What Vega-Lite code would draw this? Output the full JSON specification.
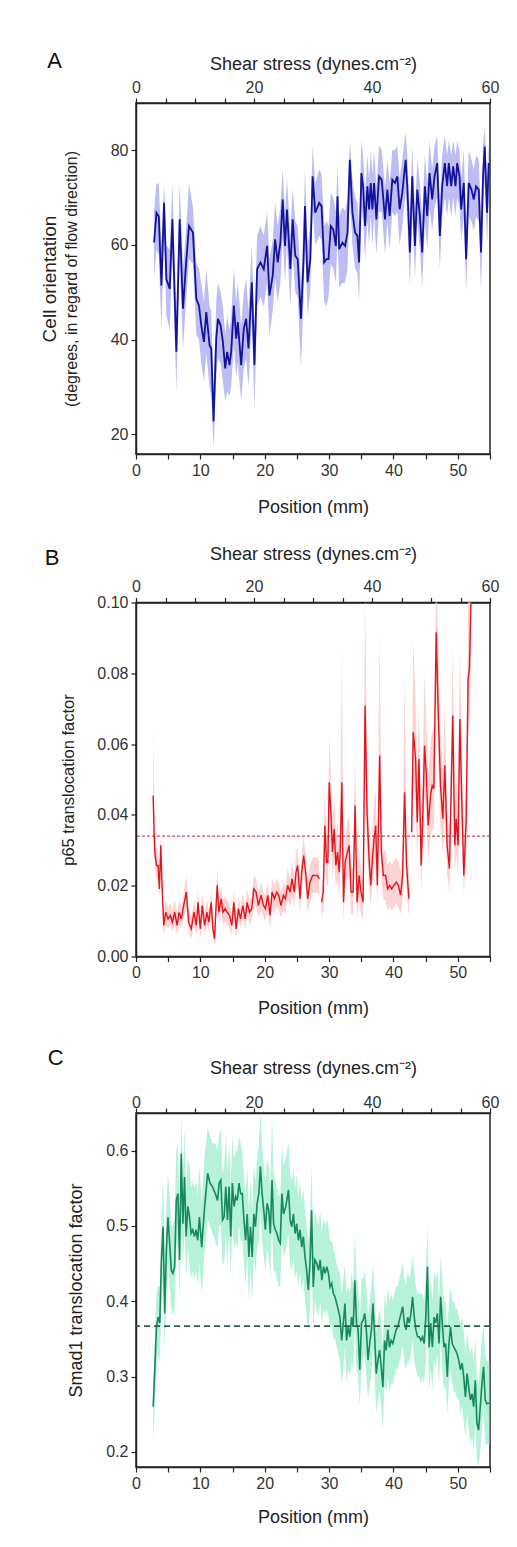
{
  "$schema": "https://vega.github.io/schema/vega-lite/v6.json",
  "background": "white",
  "padding": {"left": 39, "top": 49, "right": 5, "bottom": 5},
  "spacing": 27.5,
  "config": {
    "font": "Liberation Sans",
    "view": {"stroke": "#222", "strokeWidth": 1.5},
    "axis": {"grid": false, "domainColor": "#222", "domainWidth": 1.5, "tickColor": "#222", "tickWidth": 1.2, "tickSize": 5, "labelFont": "Liberation Sans", "labelFontSize": 16, "labelColor": "#333", "titleFont": "Liberation Sans", "titleFontSize": 18, "titleFontWeight": "normal", "titleColor": "#222", "labelPadding": 3, "labelFlush": false, "labelOverlap": false},
    "title": {"font": "Liberation Sans", "fontSize": 22, "fontWeight": "normal", "color": "#111", "anchor": "start", "frame": "bounds", "offset": 0}
  },
  "datasets": {
    "A": [
      {"x":2.81,"y":60.5,"lo":53,"hi":67},{"x":3.18,"y":66.8,"lo":59,"hi":73},{"x":3.54,"y":66.0,"lo":58,"hi":73},{"x":3.95,"y":51.4,"lo":42,"hi":60},{"x":4.36,"y":68.9,"lo":62,"hi":73},{"x":4.72,"y":52.8,"lo":45,"hi":60},{"x":5.24,"y":50.7,"lo":42,"hi":59},{"x":5.65,"y":65.4,"lo":58,"hi":73},{"x":6.27,"y":37.4,"lo":29,"hi":46},{"x":6.79,"y":65.4,"lo":57,"hi":73},{"x":7.30,"y":46.5,"lo":38,"hi":55},{"x":7.72,"y":54.9,"lo":47,"hi":62},{"x":8.23,"y":64.0,"lo":57,"hi":73},{"x":8.85,"y":62.6,"lo":56,"hi":68},{"x":9.37,"y":48.6,"lo":41,"hi":56},{"x":9.78,"y":47.2,"lo":40,"hi":55},{"x":10.14,"y":43.0,"lo":35,"hi":52},{"x":10.56,"y":39.5,"lo":31,"hi":48},{"x":10.92,"y":45.8,"lo":37,"hi":55},{"x":11.43,"y":38.8,"lo":30,"hi":47},{"x":11.69,"y":38.1,"lo":28,"hi":46},{"x":12.05,"y":22.7,"lo":17,"hi":30},{"x":12.47,"y":40.2,"lo":32,"hi":48},{"x":12.73,"y":44.4,"lo":36,"hi":52},{"x":13.14,"y":43.0,"lo":35,"hi":50},{"x":13.50,"y":39.5,"lo":31,"hi":47},{"x":13.86,"y":33.9,"lo":27,"hi":41},{"x":14.17,"y":37.4,"lo":29,"hi":45},{"x":14.53,"y":34.6,"lo":28,"hi":42},{"x":14.79,"y":37.4,"lo":30,"hi":45},{"x":15.20,"y":47.2,"lo":39,"hi":55},{"x":15.57,"y":40.2,"lo":32,"hi":48},{"x":15.82,"y":43.7,"lo":35,"hi":52},{"x":16.34,"y":34.6,"lo":27,"hi":43},{"x":16.75,"y":42.3,"lo":34,"hi":50},{"x":17.11,"y":44.4,"lo":36,"hi":53},{"x":17.48,"y":38.1,"lo":30,"hi":46},{"x":17.99,"y":52.1,"lo":44,"hi":60},{"x":18.40,"y":34.6,"lo":25,"hi":43},{"x":18.82,"y":54.9,"lo":47,"hi":62},{"x":19.33,"y":56.3,"lo":49,"hi":64},{"x":19.85,"y":54.9,"lo":47,"hi":62},{"x":20.37,"y":59.8,"lo":52,"hi":67},{"x":20.73,"y":49.3,"lo":41,"hi":57},{"x":21.24,"y":53.5,"lo":46,"hi":61},{"x":21.61,"y":61.2,"lo":53,"hi":69},{"x":22.02,"y":56.3,"lo":48,"hi":64},{"x":22.43,"y":60.5,"lo":52,"hi":68},{"x":22.79,"y":69.6,"lo":62,"hi":76},{"x":23.15,"y":59.8,"lo":52,"hi":67},{"x":23.46,"y":67.5,"lo":60,"hi":74},{"x":23.98,"y":54.9,"lo":47,"hi":62},{"x":24.34,"y":65.4,"lo":58,"hi":72},{"x":24.75,"y":57.7,"lo":50,"hi":65},{"x":25.12,"y":57.0,"lo":49,"hi":64},{"x":25.63,"y":44.4,"lo":34,"hi":52},{"x":26.04,"y":57.0,"lo":49,"hi":64},{"x":26.25,"y":68.2,"lo":61,"hi":76},{"x":26.66,"y":52.1,"lo":45,"hi":60},{"x":27.08,"y":57.0,"lo":50,"hi":64},{"x":27.44,"y":74.5,"lo":68,"hi":81},{"x":27.85,"y":66.8,"lo":60,"hi":73},{"x":28.47,"y":68.9,"lo":62,"hi":76},{"x":28.83,"y":68.2,"lo":61,"hi":75},{"x":29.24,"y":56.3,"lo":48,"hi":64},{"x":29.60,"y":57.0,"lo":47,"hi":65},{"x":29.91,"y":57.0,"lo":49,"hi":64},{"x":30.27,"y":64.0,"lo":56,"hi":71},{"x":30.64,"y":63.3,"lo":55,"hi":70},{"x":31.05,"y":59.8,"lo":52,"hi":67},{"x":31.31,"y":70.3,"lo":62,"hi":77},{"x":31.56,"y":59.1,"lo":51,"hi":66},{"x":32.08,"y":60.5,"lo":52,"hi":68},{"x":32.49,"y":59.8,"lo":52,"hi":67},{"x":32.86,"y":62.6,"lo":55,"hi":70},{"x":33.22,"y":78.0,"lo":70,"hi":82},{"x":33.63,"y":66.8,"lo":60,"hi":74},{"x":34.04,"y":62.6,"lo":55,"hi":70},{"x":34.40,"y":61.9,"lo":54,"hi":69},{"x":34.66,"y":56.3,"lo":48,"hi":64},{"x":35.02,"y":75.2,"lo":68,"hi":82},{"x":35.28,"y":72.4,"lo":65,"hi":79},{"x":35.59,"y":64.0,"lo":57,"hi":71},{"x":35.95,"y":72.4,"lo":65,"hi":79},{"x":36.21,"y":67.5,"lo":60,"hi":74},{"x":36.47,"y":73.1,"lo":66,"hi":80},{"x":36.73,"y":67.5,"lo":60,"hi":75},{"x":36.99,"y":73.1,"lo":66,"hi":80},{"x":37.35,"y":65.4,"lo":58,"hi":72},{"x":37.76,"y":74.5,"lo":67,"hi":81},{"x":38.17,"y":73.8,"lo":67,"hi":80},{"x":38.69,"y":65.4,"lo":58,"hi":72},{"x":39.05,"y":71.7,"lo":65,"hi":78},{"x":39.41,"y":66.1,"lo":59,"hi":73},{"x":39.82,"y":73.8,"lo":67,"hi":80},{"x":40.24,"y":73.1,"lo":66,"hi":80},{"x":40.60,"y":74.5,"lo":67,"hi":81},{"x":40.96,"y":67.5,"lo":60,"hi":74},{"x":41.37,"y":71.0,"lo":64,"hi":78},{"x":41.89,"y":78.0,"lo":71,"hi":84},{"x":42.15,"y":72.4,"lo":65,"hi":79},{"x":42.56,"y":58.4,"lo":51,"hi":66},{"x":42.92,"y":74.5,"lo":67,"hi":81},{"x":43.34,"y":59.8,"lo":53,"hi":67},{"x":43.70,"y":71.7,"lo":65,"hi":78},{"x":44.11,"y":66.1,"lo":59,"hi":73},{"x":44.47,"y":58.4,"lo":51,"hi":66},{"x":44.88,"y":72.4,"lo":65,"hi":79},{"x":45.25,"y":66.1,"lo":59,"hi":73},{"x":45.61,"y":75.2,"lo":68,"hi":82},{"x":46.02,"y":69.6,"lo":63,"hi":76},{"x":46.38,"y":74.5,"lo":68,"hi":81},{"x":46.80,"y":77.3,"lo":70,"hi":83},{"x":47.21,"y":61.9,"lo":55,"hi":69},{"x":47.57,"y":72.4,"lo":66,"hi":79},{"x":47.98,"y":77.3,"lo":70,"hi":83},{"x":48.34,"y":72.4,"lo":66,"hi":79},{"x":48.60,"y":77.3,"lo":70,"hi":82},{"x":48.97,"y":72.4,"lo":66,"hi":79},{"x":49.28,"y":76.6,"lo":70,"hi":82},{"x":49.64,"y":72.4,"lo":66,"hi":79},{"x":49.90,"y":77.3,"lo":70,"hi":82},{"x":50.26,"y":74.5,"lo":68,"hi":80},{"x":50.52,"y":67.5,"lo":61,"hi":74},{"x":50.93,"y":73.1,"lo":66,"hi":80},{"x":51.29,"y":57.0,"lo":50,"hi":64},{"x":51.70,"y":73.1,"lo":66,"hi":80},{"x":52.12,"y":71.7,"lo":65,"hi":78},{"x":52.48,"y":69.6,"lo":63,"hi":76},{"x":52.84,"y":72.4,"lo":66,"hi":79},{"x":53.25,"y":71.7,"lo":65,"hi":78},{"x":53.61,"y":58.4,"lo":50,"hi":66},{"x":53.92,"y":74.5,"lo":68,"hi":81},{"x":54.18,"y":80.8,"lo":74,"hi":85},{"x":54.54,"y":66.8,"lo":60,"hi":74},{"x":54.80,"y":77.3,"lo":70,"hi":82}
    ],
    "B": [
      {"s":1,"x":2.66,"y":0.0455,"lo":0.040,"hi":0.065},{"s":1,"x":2.81,"y":0.0351,"lo":0.030,"hi":0.050},{"s":1,"x":2.92,"y":0.0295,"lo":0.025,"hi":0.036},{"s":1,"x":3.18,"y":0.0257,"lo":0.022,"hi":0.030},{"s":1,"x":3.43,"y":0.0257,"lo":0.022,"hi":0.030},{"s":1,"x":3.64,"y":0.0191,"lo":0.016,"hi":0.023},{"s":1,"x":3.85,"y":0.0314,"lo":0.027,"hi":0.036},{"s":1,"x":4.05,"y":0.0201,"lo":0.016,"hi":0.024},{"s":1,"x":4.31,"y":0.0088,"lo":0.006,"hi":0.012},{"s":1,"x":4.62,"y":0.0125,"lo":0.009,"hi":0.016},{"s":1,"x":4.98,"y":0.0106,"lo":0.008,"hi":0.014},{"s":1,"x":5.34,"y":0.0116,"lo":0.009,"hi":0.015},{"s":1,"x":5.65,"y":0.0097,"lo":0.007,"hi":0.013},{"s":1,"x":6.01,"y":0.0125,"lo":0.009,"hi":0.016},{"s":1,"x":6.38,"y":0.0088,"lo":0.006,"hi":0.012},{"s":1,"x":6.69,"y":0.0125,"lo":0.009,"hi":0.016},{"s":1,"x":7.05,"y":0.0106,"lo":0.008,"hi":0.014},{"s":1,"x":7.41,"y":0.0144,"lo":0.011,"hi":0.018},{"s":1,"x":7.82,"y":0.0182,"lo":0.014,"hi":0.023},{"s":1,"x":8.18,"y":0.0097,"lo":0.007,"hi":0.013},{"s":1,"x":8.59,"y":0.0078,"lo":0.005,"hi":0.011},{"s":1,"x":9.00,"y":0.0125,"lo":0.009,"hi":0.016},{"s":1,"x":9.37,"y":0.0088,"lo":0.006,"hi":0.012},{"s":1,"x":9.63,"y":0.0153,"lo":0.012,"hi":0.019},{"s":1,"x":9.99,"y":0.0078,"lo":0.005,"hi":0.011},{"s":1,"x":10.30,"y":0.0144,"lo":0.011,"hi":0.018},{"s":1,"x":10.66,"y":0.0088,"lo":0.006,"hi":0.012},{"s":1,"x":11.02,"y":0.0125,"lo":0.009,"hi":0.016},{"s":1,"x":11.33,"y":0.0097,"lo":0.007,"hi":0.013},{"s":1,"x":11.69,"y":0.0153,"lo":0.012,"hi":0.019},{"s":1,"x":11.95,"y":0.0078,"lo":0.005,"hi":0.011},{"s":1,"x":12.21,"y":0.0050,"lo":0.003,"hi":0.008},{"s":1,"x":12.47,"y":0.0153,"lo":0.012,"hi":0.019},{"s":1,"x":12.62,"y":0.0201,"lo":0.016,"hi":0.025},{"s":1,"x":12.88,"y":0.0125,"lo":0.009,"hi":0.016},{"s":1,"x":13.24,"y":0.0163,"lo":0.013,"hi":0.020},{"s":1,"x":13.50,"y":0.0125,"lo":0.009,"hi":0.016},{"s":1,"x":13.86,"y":0.0135,"lo":0.010,"hi":0.017},{"s":1,"x":14.17,"y":0.0125,"lo":0.009,"hi":0.016},{"s":1,"x":14.53,"y":0.0116,"lo":0.008,"hi":0.015},{"s":1,"x":14.89,"y":0.0088,"lo":0.006,"hi":0.012},{"s":1,"x":15.20,"y":0.0153,"lo":0.012,"hi":0.019},{"s":1,"x":15.56,"y":0.0078,"lo":0.005,"hi":0.011},{"s":1,"x":15.92,"y":0.0135,"lo":0.010,"hi":0.017},{"s":1,"x":16.23,"y":0.0106,"lo":0.008,"hi":0.014},{"s":1,"x":16.60,"y":0.0144,"lo":0.011,"hi":0.018},{"s":1,"x":16.96,"y":0.0106,"lo":0.008,"hi":0.014},{"s":1,"x":17.27,"y":0.0153,"lo":0.012,"hi":0.019},{"s":1,"x":17.63,"y":0.0125,"lo":0.009,"hi":0.016},{"s":1,"x":17.99,"y":0.0135,"lo":0.010,"hi":0.017},{"s":1,"x":18.30,"y":0.0191,"lo":0.015,"hi":0.023},{"s":1,"x":18.66,"y":0.0182,"lo":0.014,"hi":0.022},{"s":1,"x":19.02,"y":0.0144,"lo":0.011,"hi":0.018},{"s":1,"x":19.44,"y":0.0173,"lo":0.013,"hi":0.021},{"s":1,"x":19.80,"y":0.0144,"lo":0.011,"hi":0.018},{"s":1,"x":20.11,"y":0.0135,"lo":0.010,"hi":0.017},{"s":1,"x":20.47,"y":0.0173,"lo":0.013,"hi":0.021},{"s":1,"x":20.83,"y":0.0116,"lo":0.008,"hi":0.015},{"s":1,"x":21.14,"y":0.0182,"lo":0.014,"hi":0.022},{"s":1,"x":21.50,"y":0.0163,"lo":0.012,"hi":0.020},{"s":1,"x":21.86,"y":0.0182,"lo":0.014,"hi":0.022},{"s":1,"x":22.17,"y":0.0173,"lo":0.013,"hi":0.021},{"s":1,"x":22.53,"y":0.0144,"lo":0.011,"hi":0.018},{"s":1,"x":22.90,"y":0.0173,"lo":0.013,"hi":0.021},{"s":1,"x":23.21,"y":0.0163,"lo":0.012,"hi":0.020},{"s":1,"x":23.57,"y":0.0201,"lo":0.016,"hi":0.025},{"s":1,"x":23.93,"y":0.0182,"lo":0.014,"hi":0.022},{"s":1,"x":24.24,"y":0.0219,"lo":0.017,"hi":0.027},{"s":1,"x":24.60,"y":0.0182,"lo":0.014,"hi":0.022},{"s":1,"x":24.86,"y":0.0238,"lo":0.019,"hi":0.029},{"s":1,"x":25.12,"y":0.0257,"lo":0.020,"hi":0.031},{"s":1,"x":25.48,"y":0.0163,"lo":0.012,"hi":0.020},{"s":1,"x":25.74,"y":0.0238,"lo":0.019,"hi":0.029},{"s":1,"x":26.05,"y":0.0285,"lo":0.023,"hi":0.034},{"s":1,"x":26.41,"y":0.0229,"lo":0.018,"hi":0.028},{"s":1,"x":26.67,"y":0.0163,"lo":0.012,"hi":0.021},{"s":1,"x":27.03,"y":0.0210,"lo":0.016,"hi":0.026},{"s":1,"x":27.44,"y":0.0229,"lo":0.018,"hi":0.028},{"s":1,"x":27.85,"y":0.0229,"lo":0.018,"hi":0.028},{"s":1,"x":28.20,"y":0.0229,"lo":0.018,"hi":0.028},{"s":1,"x":28.47,"y":0.0219,"lo":0.017,"hi":0.027},
      {"s":2,"x":28.83,"y":0.0153,"lo":0.011,"hi":0.020},{"s":2,"x":29.09,"y":0.0182,"lo":0.013,"hi":0.024},{"s":2,"x":29.35,"y":0.0370,"lo":0.028,"hi":0.048},{"s":2,"x":29.60,"y":0.0266,"lo":0.020,"hi":0.034},{"s":2,"x":29.81,"y":0.0266,"lo":0.020,"hi":0.034},{"s":2,"x":30.02,"y":0.0492,"lo":0.038,"hi":0.062},{"s":2,"x":30.27,"y":0.0408,"lo":0.031,"hi":0.052},{"s":2,"x":30.53,"y":0.0295,"lo":0.022,"hi":0.038},{"s":2,"x":30.79,"y":0.0361,"lo":0.027,"hi":0.046},{"s":2,"x":31.05,"y":0.0257,"lo":0.019,"hi":0.033},{"s":2,"x":31.31,"y":0.0295,"lo":0.022,"hi":0.038},{"s":2,"x":31.56,"y":0.0238,"lo":0.017,"hi":0.031},{"s":2,"x":31.72,"y":0.0295,"lo":0.022,"hi":0.038},{"s":2,"x":31.98,"y":0.0492,"lo":0.037,"hi":0.088},{"s":2,"x":32.24,"y":0.0153,"lo":0.010,"hi":0.021},{"s":2,"x":32.49,"y":0.0266,"lo":0.019,"hi":0.034},{"s":2,"x":32.85,"y":0.0295,"lo":0.022,"hi":0.038},{"s":2,"x":33.11,"y":0.0314,"lo":0.023,"hi":0.040},{"s":2,"x":33.42,"y":0.0182,"lo":0.012,"hi":0.025},{"s":2,"x":33.73,"y":0.0182,"lo":0.012,"hi":0.025},{"s":2,"x":34.04,"y":0.0427,"lo":0.032,"hi":0.058},{"s":2,"x":34.35,"y":0.0153,"lo":0.010,"hi":0.021},{"s":2,"x":34.66,"y":0.0229,"lo":0.016,"hi":0.030},{"s":2,"x":34.97,"y":0.0182,"lo":0.012,"hi":0.025},{"s":2,"x":35.28,"y":0.0153,"lo":0.010,"hi":0.021},{"s":2,"x":35.59,"y":0.0709,"lo":0.055,"hi":0.105},{"s":2,"x":35.90,"y":0.0408,"lo":0.030,"hi":0.052},{"s":2,"x":36.21,"y":0.0276,"lo":0.020,"hi":0.036},{"s":2,"x":36.47,"y":0.0201,"lo":0.014,"hi":0.027},{"s":2,"x":36.73,"y":0.0276,"lo":0.020,"hi":0.036},{"s":2,"x":36.99,"y":0.0332,"lo":0.025,"hi":0.043},{"s":2,"x":37.24,"y":0.0370,"lo":0.028,"hi":0.047},{"s":2,"x":37.50,"y":0.0201,"lo":0.014,"hi":0.027},{"s":2,"x":37.86,"y":0.0568,"lo":0.044,"hi":0.092},{"s":2,"x":38.12,"y":0.0295,"lo":0.022,"hi":0.038},{"s":2,"x":38.43,"y":0.0229,"lo":0.016,"hi":0.030},{"s":2,"x":38.79,"y":0.0229,"lo":0.016,"hi":0.030},{"s":2,"x":39.10,"y":0.0191,"lo":0.013,"hi":0.026},{"s":2,"x":39.41,"y":0.0201,"lo":0.014,"hi":0.027},{"s":2,"x":39.72,"y":0.0191,"lo":0.013,"hi":0.026},{"s":2,"x":40.08,"y":0.0201,"lo":0.014,"hi":0.027},{"s":2,"x":40.44,"y":0.0210,"lo":0.015,"hi":0.028},{"s":2,"x":40.75,"y":0.0201,"lo":0.014,"hi":0.027},{"s":2,"x":41.11,"y":0.0173,"lo":0.012,"hi":0.024},{"s":2,"x":41.42,"y":0.0229,"lo":0.016,"hi":0.030},{"s":2,"x":41.73,"y":0.0464,"lo":0.035,"hi":0.080},{"s":2,"x":42.04,"y":0.0257,"lo":0.018,"hi":0.034},{"s":2,"x":42.40,"y":0.0163,"lo":0.011,"hi":0.023},
      {"s":3,"x":42.82,"y":0.0351,"lo":0.026,"hi":0.046},{"s":3,"x":43.08,"y":0.0634,"lo":0.050,"hi":0.090},{"s":3,"x":43.44,"y":0.0558,"lo":0.043,"hi":0.072},{"s":3,"x":43.70,"y":0.0379,"lo":0.028,"hi":0.050},{"s":3,"x":43.96,"y":0.0558,"lo":0.043,"hi":0.072},{"s":3,"x":44.31,"y":0.0257,"lo":0.018,"hi":0.035},{"s":3,"x":44.57,"y":0.0408,"lo":0.030,"hi":0.054},{"s":3,"x":44.83,"y":0.0596,"lo":0.046,"hi":0.080},{"s":3,"x":45.09,"y":0.0521,"lo":0.040,"hi":0.068},{"s":3,"x":45.40,"y":0.0370,"lo":0.027,"hi":0.050},{"s":3,"x":45.76,"y":0.0455,"lo":0.034,"hi":0.060},{"s":3,"x":46.02,"y":0.0483,"lo":0.036,"hi":0.064},{"s":3,"x":46.28,"y":0.0474,"lo":0.036,"hi":0.063},{"s":3,"x":46.64,"y":0.0916,"lo":0.075,"hi":0.110},{"s":3,"x":46.95,"y":0.0700,"lo":0.055,"hi":0.090},{"s":3,"x":47.31,"y":0.0483,"lo":0.036,"hi":0.064},{"s":3,"x":47.67,"y":0.0389,"lo":0.029,"hi":0.052},{"s":3,"x":47.98,"y":0.0540,"lo":0.041,"hi":0.072},{"s":3,"x":48.34,"y":0.0314,"lo":0.023,"hi":0.042},{"s":3,"x":48.70,"y":0.0248,"lo":0.018,"hi":0.034},{"s":3,"x":48.96,"y":0.0464,"lo":0.035,"hi":0.062},{"s":3,"x":49.22,"y":0.0681,"lo":0.053,"hi":0.088},{"s":3,"x":49.53,"y":0.0314,"lo":0.023,"hi":0.042},{"s":3,"x":49.74,"y":0.0389,"lo":0.029,"hi":0.052},{"s":3,"x":50.05,"y":0.0314,"lo":0.023,"hi":0.042},{"s":3,"x":50.31,"y":0.0671,"lo":0.052,"hi":0.088},{"s":3,"x":50.56,"y":0.0483,"lo":0.036,"hi":0.064},{"s":3,"x":50.93,"y":0.0229,"lo":0.017,"hi":0.031},{"s":3,"x":51.29,"y":0.0379,"lo":0.028,"hi":0.050},{"s":3,"x":51.60,"y":0.0784,"lo":0.062,"hi":0.100},{"s":3,"x":51.80,"y":0.0813,"lo":0.065,"hi":0.105},{"s":3,"x":52.06,"y":0.1010,"lo":0.085,"hi":0.120}
    ],
    "C": [
      {"x":2.67,"y":0.260,"lo":0.215,"hi":0.300},{"x":2.92,"y":0.309,"lo":0.26,"hi":0.35},{"x":3.18,"y":0.366,"lo":0.31,"hi":0.41},{"x":3.44,"y":0.379,"lo":0.33,"hi":0.42},{"x":3.69,"y":0.371,"lo":0.32,"hi":0.42},{"x":3.95,"y":0.455,"lo":0.39,"hi":0.52},{"x":4.21,"y":0.499,"lo":0.43,"hi":0.56},{"x":4.46,"y":0.384,"lo":0.33,"hi":0.44},{"x":4.72,"y":0.468,"lo":0.41,"hi":0.53},{"x":4.97,"y":0.512,"lo":0.45,"hi":0.57},{"x":5.23,"y":0.477,"lo":0.42,"hi":0.54},{"x":5.49,"y":0.441,"lo":0.39,"hi":0.50},{"x":5.74,"y":0.437,"lo":0.38,"hi":0.50},{"x":6.00,"y":0.446,"lo":0.39,"hi":0.51},{"x":6.26,"y":0.534,"lo":0.47,"hi":0.60},{"x":6.51,"y":0.543,"lo":0.48,"hi":0.61},{"x":6.77,"y":0.455,"lo":0.40,"hi":0.52},{"x":7.03,"y":0.596,"lo":0.53,"hi":0.65},{"x":7.28,"y":0.503,"lo":0.44,"hi":0.57},{"x":7.54,"y":0.565,"lo":0.50,"hi":0.63},{"x":7.79,"y":0.486,"lo":0.43,"hi":0.55},{"x":8.05,"y":0.526,"lo":0.47,"hi":0.59},{"x":8.31,"y":0.512,"lo":0.45,"hi":0.58},{"x":8.56,"y":0.490,"lo":0.43,"hi":0.55},{"x":8.82,"y":0.495,"lo":0.44,"hi":0.56},{"x":9.08,"y":0.486,"lo":0.43,"hi":0.55},{"x":9.33,"y":0.495,"lo":0.44,"hi":0.56},{"x":9.59,"y":0.481,"lo":0.42,"hi":0.54},{"x":9.85,"y":0.512,"lo":0.45,"hi":0.58},{"x":10.21,"y":0.472,"lo":0.41,"hi":0.53},{"x":10.62,"y":0.521,"lo":0.46,"hi":0.59},{"x":11.13,"y":0.570,"lo":0.51,"hi":0.63},{"x":11.49,"y":0.557,"lo":0.50,"hi":0.62},{"x":11.90,"y":0.552,"lo":0.49,"hi":0.61},{"x":12.31,"y":0.543,"lo":0.48,"hi":0.61},{"x":12.67,"y":0.534,"lo":0.47,"hi":0.60},{"x":12.92,"y":0.557,"lo":0.50,"hi":0.62},{"x":13.18,"y":0.561,"lo":0.50,"hi":0.63},{"x":13.44,"y":0.508,"lo":0.45,"hi":0.57},{"x":13.69,"y":0.512,"lo":0.45,"hi":0.58},{"x":13.95,"y":0.552,"lo":0.49,"hi":0.62},{"x":14.21,"y":0.508,"lo":0.45,"hi":0.57},{"x":14.46,"y":0.552,"lo":0.49,"hi":0.61},{"x":14.72,"y":0.486,"lo":0.43,"hi":0.55},{"x":14.97,"y":0.557,"lo":0.50,"hi":0.62},{"x":15.23,"y":0.526,"lo":0.47,"hi":0.59},{"x":15.49,"y":0.539,"lo":0.48,"hi":0.60},{"x":15.74,"y":0.534,"lo":0.47,"hi":0.60},{"x":16.00,"y":0.557,"lo":0.50,"hi":0.62},{"x":16.26,"y":0.543,"lo":0.48,"hi":0.61},{"x":16.51,"y":0.543,"lo":0.48,"hi":0.60},{"x":16.77,"y":0.508,"lo":0.45,"hi":0.57},{"x":17.03,"y":0.481,"lo":0.42,"hi":0.54},{"x":17.28,"y":0.516,"lo":0.46,"hi":0.58},{"x":17.54,"y":0.459,"lo":0.40,"hi":0.52},{"x":17.79,"y":0.499,"lo":0.44,"hi":0.56},{"x":18.05,"y":0.459,"lo":0.40,"hi":0.52},{"x":18.31,"y":0.516,"lo":0.46,"hi":0.58},{"x":18.56,"y":0.499,"lo":0.44,"hi":0.56},{"x":18.82,"y":0.530,"lo":0.47,"hi":0.59},{"x":19.08,"y":0.543,"lo":0.48,"hi":0.61},{"x":19.33,"y":0.579,"lo":0.52,"hi":0.65},{"x":19.59,"y":0.543,"lo":0.48,"hi":0.61},{"x":19.85,"y":0.521,"lo":0.46,"hi":0.58},{"x":20.10,"y":0.495,"lo":0.44,"hi":0.56},{"x":20.36,"y":0.530,"lo":0.47,"hi":0.59},{"x":20.62,"y":0.521,"lo":0.46,"hi":0.58},{"x":20.87,"y":0.490,"lo":0.43,"hi":0.55},{"x":21.13,"y":0.561,"lo":0.50,"hi":0.65},{"x":21.38,"y":0.503,"lo":0.44,"hi":0.57},{"x":21.64,"y":0.495,"lo":0.44,"hi":0.56},{"x":21.90,"y":0.490,"lo":0.43,"hi":0.55},{"x":22.15,"y":0.481,"lo":0.42,"hi":0.54},{"x":22.41,"y":0.477,"lo":0.42,"hi":0.54},{"x":22.67,"y":0.543,"lo":0.48,"hi":0.61},{"x":22.92,"y":0.516,"lo":0.46,"hi":0.58},{"x":23.28,"y":0.526,"lo":0.47,"hi":0.59},{"x":23.69,"y":0.548,"lo":0.49,"hi":0.61},{"x":23.95,"y":0.508,"lo":0.45,"hi":0.57},{"x":24.21,"y":0.499,"lo":0.44,"hi":0.56},{"x":24.46,"y":0.516,"lo":0.46,"hi":0.58},{"x":24.72,"y":0.490,"lo":0.43,"hi":0.55},{"x":24.97,"y":0.503,"lo":0.44,"hi":0.57},{"x":25.23,"y":0.481,"lo":0.42,"hi":0.54},{"x":25.49,"y":0.495,"lo":0.44,"hi":0.56},{"x":25.74,"y":0.472,"lo":0.41,"hi":0.53},{"x":26.00,"y":0.486,"lo":0.43,"hi":0.55},{"x":26.26,"y":0.459,"lo":0.40,"hi":0.52},{"x":26.51,"y":0.441,"lo":0.38,"hi":0.50},{"x":26.77,"y":0.415,"lo":0.36,"hi":0.48},{"x":27.03,"y":0.450,"lo":0.39,"hi":0.51},{"x":27.28,"y":0.521,"lo":0.46,"hi":0.58},{"x":27.54,"y":0.419,"lo":0.36,"hi":0.48},{"x":27.79,"y":0.455,"lo":0.40,"hi":0.52},{"x":28.10,"y":0.450,"lo":0.39,"hi":0.51},{"x":28.36,"y":0.441,"lo":0.38,"hi":0.50},{"x":28.62,"y":0.455,"lo":0.40,"hi":0.52},{"x":28.87,"y":0.428,"lo":0.37,"hi":0.49},{"x":29.13,"y":0.446,"lo":0.39,"hi":0.51},{"x":29.38,"y":0.437,"lo":0.38,"hi":0.50},{"x":29.64,"y":0.446,"lo":0.39,"hi":0.51},{"x":29.90,"y":0.437,"lo":0.38,"hi":0.50},{"x":30.15,"y":0.419,"lo":0.36,"hi":0.48},{"x":30.41,"y":0.424,"lo":0.37,"hi":0.48},{"x":30.67,"y":0.410,"lo":0.35,"hi":0.47},{"x":30.92,"y":0.406,"lo":0.35,"hi":0.46},{"x":31.18,"y":0.397,"lo":0.34,"hi":0.45},{"x":31.44,"y":0.388,"lo":0.33,"hi":0.44},{"x":31.69,"y":0.379,"lo":0.32,"hi":0.44},{"x":31.95,"y":0.348,"lo":0.29,"hi":0.41},{"x":32.21,"y":0.371,"lo":0.31,"hi":0.43},{"x":32.46,"y":0.397,"lo":0.34,"hi":0.45},{"x":32.72,"y":0.348,"lo":0.29,"hi":0.41},{"x":32.97,"y":0.366,"lo":0.31,"hi":0.42},{"x":33.23,"y":0.353,"lo":0.30,"hi":0.41},{"x":33.49,"y":0.379,"lo":0.32,"hi":0.44},{"x":33.74,"y":0.366,"lo":0.31,"hi":0.42},{"x":34.00,"y":0.428,"lo":0.37,"hi":0.49},{"x":34.26,"y":0.371,"lo":0.31,"hi":0.43},{"x":34.51,"y":0.362,"lo":0.30,"hi":0.42},{"x":34.77,"y":0.309,"lo":0.26,"hi":0.37},{"x":35.03,"y":0.371,"lo":0.31,"hi":0.43},{"x":35.28,"y":0.375,"lo":0.32,"hi":0.43},{"x":35.54,"y":0.384,"lo":0.33,"hi":0.44},{"x":35.79,"y":0.362,"lo":0.30,"hi":0.42},{"x":36.05,"y":0.322,"lo":0.27,"hi":0.38},{"x":36.31,"y":0.344,"lo":0.29,"hi":0.40},{"x":36.56,"y":0.362,"lo":0.30,"hi":0.42},{"x":36.82,"y":0.397,"lo":0.34,"hi":0.45},{"x":37.08,"y":0.353,"lo":0.30,"hi":0.41},{"x":37.33,"y":0.304,"lo":0.25,"hi":0.36},{"x":37.59,"y":0.322,"lo":0.27,"hi":0.38},{"x":37.85,"y":0.335,"lo":0.28,"hi":0.39},{"x":38.10,"y":0.313,"lo":0.26,"hi":0.37},{"x":38.36,"y":0.286,"lo":0.23,"hi":0.34},{"x":38.62,"y":0.348,"lo":0.29,"hi":0.41},{"x":38.87,"y":0.335,"lo":0.28,"hi":0.39},{"x":39.13,"y":0.362,"lo":0.30,"hi":0.42},{"x":39.38,"y":0.339,"lo":0.28,"hi":0.40},{"x":39.64,"y":0.348,"lo":0.29,"hi":0.41},{"x":39.90,"y":0.344,"lo":0.29,"hi":0.40},{"x":40.15,"y":0.353,"lo":0.30,"hi":0.41},{"x":40.41,"y":0.362,"lo":0.31,"hi":0.42},{"x":40.67,"y":0.366,"lo":0.31,"hi":0.42},{"x":40.92,"y":0.375,"lo":0.32,"hi":0.43},{"x":41.18,"y":0.384,"lo":0.33,"hi":0.44},{"x":41.44,"y":0.393,"lo":0.34,"hi":0.45},{"x":41.69,"y":0.371,"lo":0.32,"hi":0.43},{"x":41.95,"y":0.362,"lo":0.31,"hi":0.42},{"x":42.21,"y":0.379,"lo":0.32,"hi":0.44},{"x":42.46,"y":0.371,"lo":0.32,"hi":0.43},{"x":42.72,"y":0.384,"lo":0.33,"hi":0.44},{"x":42.97,"y":0.406,"lo":0.35,"hi":0.46},{"x":43.23,"y":0.379,"lo":0.32,"hi":0.44},{"x":43.49,"y":0.362,"lo":0.31,"hi":0.42},{"x":43.74,"y":0.353,"lo":0.30,"hi":0.41},{"x":44.00,"y":0.353,"lo":0.30,"hi":0.41},{"x":44.26,"y":0.348,"lo":0.29,"hi":0.41},{"x":44.51,"y":0.353,"lo":0.30,"hi":0.41},{"x":44.77,"y":0.344,"lo":0.29,"hi":0.40},{"x":45.03,"y":0.379,"lo":0.32,"hi":0.44},{"x":45.28,"y":0.446,"lo":0.38,"hi":0.50},{"x":45.54,"y":0.339,"lo":0.28,"hi":0.40},{"x":45.79,"y":0.371,"lo":0.31,"hi":0.43},{"x":46.05,"y":0.339,"lo":0.28,"hi":0.40},{"x":46.31,"y":0.379,"lo":0.32,"hi":0.44},{"x":46.56,"y":0.371,"lo":0.31,"hi":0.43},{"x":46.82,"y":0.384,"lo":0.33,"hi":0.44},{"x":47.08,"y":0.344,"lo":0.29,"hi":0.40},{"x":47.33,"y":0.406,"lo":0.35,"hi":0.46},{"x":47.59,"y":0.371,"lo":0.31,"hi":0.43},{"x":47.85,"y":0.339,"lo":0.28,"hi":0.40},{"x":48.10,"y":0.344,"lo":0.29,"hi":0.40},{"x":48.36,"y":0.300,"lo":0.25,"hi":0.36},{"x":48.62,"y":0.344,"lo":0.29,"hi":0.40},{"x":48.87,"y":0.366,"lo":0.31,"hi":0.42},{"x":49.13,"y":0.344,"lo":0.29,"hi":0.40},{"x":49.38,"y":0.339,"lo":0.28,"hi":0.40},{"x":49.64,"y":0.335,"lo":0.28,"hi":0.39},{"x":49.90,"y":0.330,"lo":0.27,"hi":0.39},{"x":50.15,"y":0.322,"lo":0.27,"hi":0.38},{"x":50.41,"y":0.309,"lo":0.25,"hi":0.37},{"x":50.67,"y":0.318,"lo":0.26,"hi":0.38},{"x":50.92,"y":0.300,"lo":0.24,"hi":0.36},{"x":51.18,"y":0.273,"lo":0.22,"hi":0.33},{"x":51.44,"y":0.304,"lo":0.25,"hi":0.36},{"x":51.69,"y":0.286,"lo":0.23,"hi":0.34},{"x":51.95,"y":0.269,"lo":0.21,"hi":0.33},{"x":52.21,"y":0.277,"lo":0.22,"hi":0.34},{"x":52.46,"y":0.260,"lo":0.20,"hi":0.32},{"x":52.72,"y":0.295,"lo":0.24,"hi":0.35},{"x":52.97,"y":0.238,"lo":0.19,"hi":0.30},{"x":53.23,"y":0.229,"lo":0.18,"hi":0.29},{"x":53.49,"y":0.260,"lo":0.20,"hi":0.32},{"x":53.74,"y":0.290,"lo":0.23,"hi":0.35},{"x":54.00,"y":0.313,"lo":0.26,"hi":0.37},{"x":54.26,"y":0.269,"lo":0.21,"hi":0.33},{"x":54.51,"y":0.264,"lo":0.21,"hi":0.32},{"x":54.90,"y":0.265,"lo":0.21,"hi":0.32}
    ]
  },
  "vconcat": [
    {
      "title": {"text": "A", "dy": 22, "dx": 7},
      "width": 354,
      "height": 351,
      "resolve": {"scale": {"x": "independent", "y": "independent"}, "axis": {"x": "independent", "y": "independent"}},
      "layer": [
        {
          "data": {"name": "A"},
          "mark": {"type": "area", "color": "#bdbdf2", "opacity": 1},
          "encoding": {
            "x": {"field": "x", "type": "quantitative", "scale": {"domain": [0, 55], "nice": false}, "axis": {"values": [0,5,10,15,20,25,30,35,40,45,50,55], "labelExpr": "datum.value % 10 == 0 ? datum.label : ''", "title": "Position (mm)", "titlePadding": 20}},
            "y": {"field": "lo", "type": "quantitative", "scale": {"domain": [15.8, 90], "nice": false, "zero": false}, "axis": {"values": [20, 40, 60, 80], "title": "Cell orientation", "titleFontSize": 19, "titlePadding": 51}},
            "y2": {"field": "hi"}
          }
        },
        {
          "data": {"name": "A"},
          "mark": {"type": "line", "color": "#12129c", "strokeWidth": 1.8},
          "encoding": {
            "x": {"field": "x", "type": "quantitative", "scale": {"domain": [0, 55], "nice": false}, "axis": null},
            "y": {"field": "y", "type": "quantitative", "scale": {"domain": [15.8, 90], "nice": false, "zero": false}, "axis": null}
          }
        },
        {
          "data": {"values": [{"s": 0, "t": 0}, {"s": 60, "t": 1}]},
          "mark": {"type": "point", "opacity": 0},
          "encoding": {
            "x": {"field": "s", "type": "quantitative", "scale": {"domain": [0, 60], "nice": false}, "axis": {"orient": "top", "values": [0,5,10,15,20,25,30,35,40,45,50,55,60], "labelExpr": "datum.value % 20 == 0 ? datum.label : ''", "title": "Shear stress (dynes.cm⁻²)", "titlePadding": 6}},
            "y": {"field": "t", "type": "quantitative", "scale": {"domain": [0, 1]}, "axis": {"orient": "left", "labels": false, "ticks": false, "domain": false, "title": "(degrees, in regard of flow direction)", "titleFontSize": 16, "titlePadding": 57}}
          }
        }
      ]
    },
    {
      "title": {"text": "B", "dy": 28, "dx": -16},
      "width": 354,
      "height": 354,
      "resolve": {"scale": {"x": "independent"}, "axis": {"x": "independent"}},
      "layer": [
        {
          "data": {"name": "B"},
          "mark": {"type": "area", "color": "#fcd3d3", "clip": true},
          "encoding": {
            "x": {"field": "x", "type": "quantitative", "scale": {"domain": [0, 55], "nice": false}, "axis": {"values": [0,5,10,15,20,25,30,35,40,45,50,55], "labelExpr": "datum.value % 10 == 0 ? datum.label : ''", "title": "Position (mm)", "titlePadding": 19}},
            "y": {"field": "lo", "type": "quantitative", "scale": {"domain": [0, 0.1], "nice": false}, "axis": {"values": [0,0.01,0.02,0.03,0.04,0.05,0.06,0.07,0.08,0.09,0.1], "labelExpr": "round(datum.value*100) % 2 == 0 ? format(datum.value, '.2f') : ''", "title": "p65 translocation factor", "titleFontSize": 16.5, "titlePadding": 20}},
            "y2": {"field": "hi"},
            "detail": {"field": "s"}
          }
        },
        {
          "data": {"name": "B"},
          "mark": {"type": "line", "color": "#e5141c", "strokeWidth": 1.4, "clip": true},
          "encoding": {
            "x": {"field": "x", "type": "quantitative", "scale": {"domain": [0, 55], "nice": false}, "axis": null},
            "y": {"field": "y", "type": "quantitative"},
            "detail": {"field": "s"}
          }
        },
        {
          "data": {"values": [{}]},
          "mark": {"type": "rule", "color": "#b02a2a", "strokeDash": [3, 2], "strokeWidth": 1},
          "encoding": {"y": {"datum": 0.034}}
        },
        {
          "data": {"values": [{"s": 0}, {"s": 60}]},
          "mark": {"type": "point", "opacity": 0},
          "encoding": {
            "x": {"field": "s", "type": "quantitative", "scale": {"domain": [0, 60], "nice": false}, "axis": {"orient": "top", "values": [0,5,10,15,20,25,30,35,40,45,50,55,60], "labelExpr": "datum.value % 20 == 0 ? datum.label : ''", "title": "Shear stress (dynes.cm⁻²)", "titlePadding": 15}}
          }
        }
      ]
    },
    {
      "title": {"text": "C", "dy": 15, "dx": -20},
      "width": 354,
      "height": 354,
      "resolve": {"scale": {"x": "independent"}, "axis": {"x": "independent"}},
      "layer": [
        {
          "data": {"name": "C"},
          "mark": {"type": "area", "color": "#b6f1d9"},
          "encoding": {
            "x": {"field": "x", "type": "quantitative", "scale": {"domain": [0, 55], "nice": false}, "axis": {"values": [0,5,10,15,20,25,30,35,40,45,50,55], "labelExpr": "datum.value % 10 == 0 ? datum.label : ''", "title": "Position (mm)", "titlePadding": 17}},
            "y": {"field": "lo", "type": "quantitative", "scale": {"domain": [0.18, 0.65], "nice": false, "zero": false}, "axis": {"values": [0.2, 0.3, 0.4, 0.5, 0.6], "format": ".1f", "title": "Smad1 translocation factor", "titleFontSize": 18, "titlePadding": 20}},
            "y2": {"field": "hi"}
          }
        },
        {
          "data": {"name": "C"},
          "mark": {"type": "line", "color": "#178a5a", "strokeWidth": 1.6},
          "encoding": {
            "x": {"field": "x", "type": "quantitative", "scale": {"domain": [0, 55], "nice": false}, "axis": null},
            "y": {"field": "y", "type": "quantitative"}
          }
        },
        {
          "data": {"values": [{}]},
          "mark": {"type": "rule", "color": "#2c5f4c", "strokeDash": [6, 4], "strokeWidth": 1.6},
          "encoding": {"y": {"datum": 0.367}}
        },
        {
          "data": {"values": [{"s": 0}, {"s": 60}]},
          "mark": {"type": "point", "opacity": 0},
          "encoding": {
            "x": {"field": "s", "type": "quantitative", "scale": {"domain": [0, 60], "nice": false}, "axis": {"orient": "top", "values": [0,5,10,15,20,25,30,35,40,45,50,55,60], "labelExpr": "datum.value % 20 == 0 ? datum.label : ''", "title": "Shear stress (dynes.cm⁻²)", "titlePadding": 17, "labelPadding": -2}}
          }
        }
      ]
    }
  ]
}
